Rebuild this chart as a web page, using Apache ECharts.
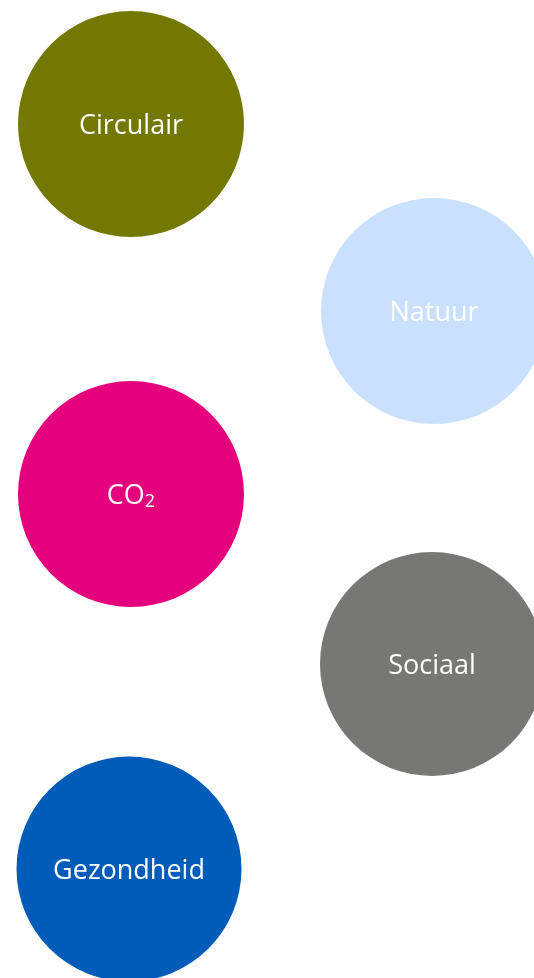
<!DOCTYPE html>
<html>
<head>
<meta charset="utf-8">
<script src="https://cdn.jsdelivr.net/npm/echarts@6/dist/echarts.min.js"></script>
<style>
  html, body { margin: 0; padding: 0; background: #ffffff; }
  #chart { width: 534px; height: 978px; }
</style>
</head>
<body>
<div id="chart"></div>
<script>
// Theme bubbles: label, centre (x, y in page units) and diameter
const labels = ['Circulair', 'Natuur', 'CO{sub|2}', 'Sociaal', 'Gezondheid'];
const xValues = [131, 434, 131, 432, 129];
const yValues = [124, 311, 494, 664, 869];
const diameters = [226, 226, 226, 224, 225];
const colors = ['#737800', '#c9e1ff', '#e5007d', '#777775', '#005cb9'];

const chart = echarts.init(document.getElementById('chart'), null, { renderer: 'canvas' });

const data = labels.map((name, i) => ({
  value: [xValues[i], yValues[i]],
  name,
  symbolSize: diameters[i],
  itemStyle: { color: colors[i], opacity: 1 }
}));

chart.setOption({
  animation: false,
  grid: { left: 0, right: 0, top: 0, bottom: 0 },
  xAxis: { type: 'value', min: 0, max: 534, show: false },
  yAxis: { type: 'value', min: 0, max: 978, inverse: true, show: false },
  series: [{
    type: 'scatter',
    symbol: 'circle',
    data,
    itemStyle: { opacity: 1 },
    label: {
      show: true,
      position: 'inside',
      offset: [0, 2],
      formatter: (p) => p.name,
      color: '#ffffff',
      fontFamily: 'Open Sans',
      fontSize: 27,
      rich: {
        sub: { fontFamily: 'Open Sans', fontSize: 18, color: '#ffffff', padding: [12, 0, 0, 0] }
      }
    }
  }]
});
</script>
</body>
</html>
